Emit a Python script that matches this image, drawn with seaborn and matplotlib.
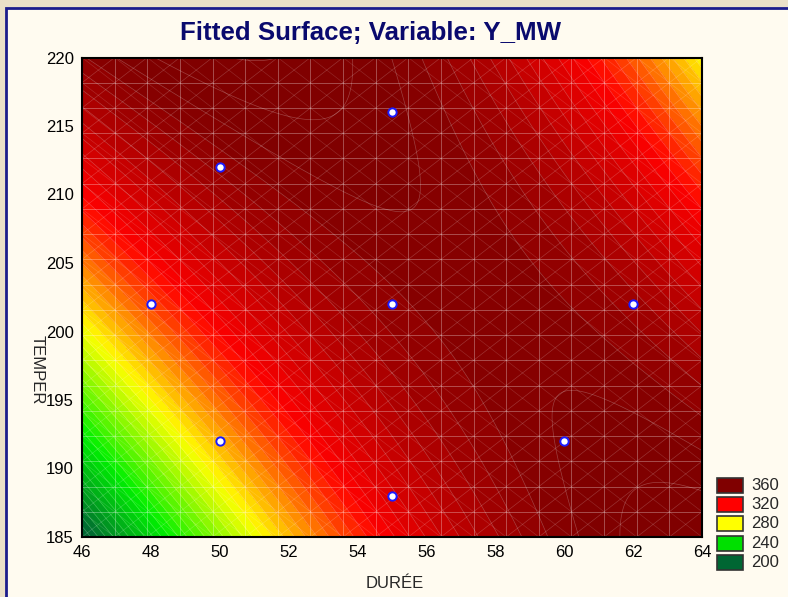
import numpy as np
import pandas as pd
import matplotlib
matplotlib.use("Agg")
import matplotlib.pyplot as plt
import seaborn as sns
from matplotlib.colors import LinearSegmentedColormap, Normalize
from matplotlib.patches import Rectangle

sns.set_theme(style="white")
plt.rcParams['font.family'] = ['Liberation Sans', 'DejaVu Sans']

# design points
duree_pts = [48, 50, 55, 55, 62, 50, 55, 60]
temper_pts = [202, 212, 216, 202, 202, 192, 188, 192]

# fitted quadratic model (u = DUREE-55, v = TEMPER-202): const, u, v, u^2, v^2, u*v
model_terms = ['const', 'u', 'v', 'u2', 'v2', 'uv']
model_coefs = [354.61, 2.913, 1.093, -0.516, -0.0443, -0.392]

legend_levels = [360, 320, 280, 240, 200]
legend_colors = ['#800000', '#FF0000', '#FFFF00', '#00E000', '#006633']
x_ticks = [46, 48, 50, 52, 54, 56, 58, 60, 62, 64]
y_ticks = [185, 190, 195, 200, 205, 210, 215, 220]

coef = dict(zip(model_terms, model_coefs))

W, H = 788, 597
fig = plt.figure(figsize=(W/100, H/100), dpi=100)
fig.patch.set_facecolor('#EBE0C8')
fig.add_artist(Rectangle((6/W, -0.02), 1.0, (H-8)/H + 0.02, transform=fig.transFigure,
                         facecolor='#FFFBF0', edgecolor='#1C1C8C', lw=2, zorder=-10))

ax = fig.add_axes([82/W, 1-537/H, (702-82)/W, (537-57.5)/H])

DD, TT = np.meshgrid(np.linspace(46, 64, 240), np.linspace(185, 220, 240))
U, V = DD-55, TT-202
Z = (coef['const'] + coef['u']*U + coef['v']*V + coef['u2']*U**2 + coef['v2']*V**2
     + coef['uv']*U*V)

cmap = LinearSegmentedColormap.from_list('stat', [(0, '#006633'), (0.25, '#00F000'), (0.5, '#FFFF00'),
                                                  (0.75, '#FF0000'), (1.0, '#800000')])
cmap.set_over('#800000')
cmap.set_under('#006633')
norm = Normalize(200, 360)
zmin = np.floor(Z.min()/4)*4 - 4
zmax = np.ceil(Z.max()/4)*4 + 4
levels = np.arange(zmin, zmax+1, 4)
ax.contourf(DD, TT, Z, levels=levels, cmap=cmap, norm=norm, extend='both')
ax.contour(DD, TT, Z, levels=levels, colors='white', alpha=0.25, linewidths=0.5)

gx = np.linspace(46, 64, 20)
gy = np.linspace(185, 220, 20)
for g in gx:
    ax.axvline(g, color='white', alpha=0.3, lw=0.7)
for g in gy:
    ax.axhline(g, color='white', alpha=0.3, lw=0.7)
dx, dy = gx[1]-gx[0], gy[1]-gy[0]
for k in range(-20, 21):
    xs = np.array([46 + k*dx, 46 + (k+20)*dx])
    ax.plot(xs, 185 + (xs - 46 - k*dx)/dx*dy, color='white', alpha=0.2, lw=0.5)
    ax.plot(xs, 220 - (xs - 46 - k*dx)/dx*dy, color='white', alpha=0.15, lw=0.5)

sns.scatterplot(x=duree_pts, y=temper_pts, ax=ax, s=36, color='white', edgecolor='#1A1AFF',
                linewidth=1.4, zorder=6, legend=False)

ax.set_xlim(46, 64)
ax.set_ylim(185, 220)
ax.set_xticks(x_ticks)
ax.set_yticks(y_ticks)
ax.tick_params(direction='in', length=5, width=1.2, top=True, right=True, labelsize=12, pad=6,
               colors='black')
for s in ax.spines.values():
    s.set_color('black')
    s.set_linewidth(1.5)
ax.set_xlabel('')
ax.set_ylabel('')

fig.text(371/W, 1-33/H, 'Fitted Surface; Variable: Y_MW', ha='center', va='center',
         fontsize=18.6, fontweight='bold', color='#0A0A6E')
fig.text(395/W, 1-583/H, 'DURÉE', ha='center', va='center', fontsize=12)
fig.text(37/W, 1-370/H, 'TEMPER', ha='center', va='center', fontsize=12, rotation=270)

for i, (lv, c) in enumerate(zip(legend_levels, legend_colors)):
    ytop = 477.5 + i*19.4
    fig.add_artist(Rectangle((717/W, 1-(ytop+15)/H), 26/W, 15/H, transform=fig.transFigure,
                             facecolor=c, edgecolor='#333333', lw=1.2))
    fig.text(751/W, 1-(ytop+7.5)/H, str(lv), ha='left', va='center', fontsize=12)

fig.savefig('out.png', dpi=100)
